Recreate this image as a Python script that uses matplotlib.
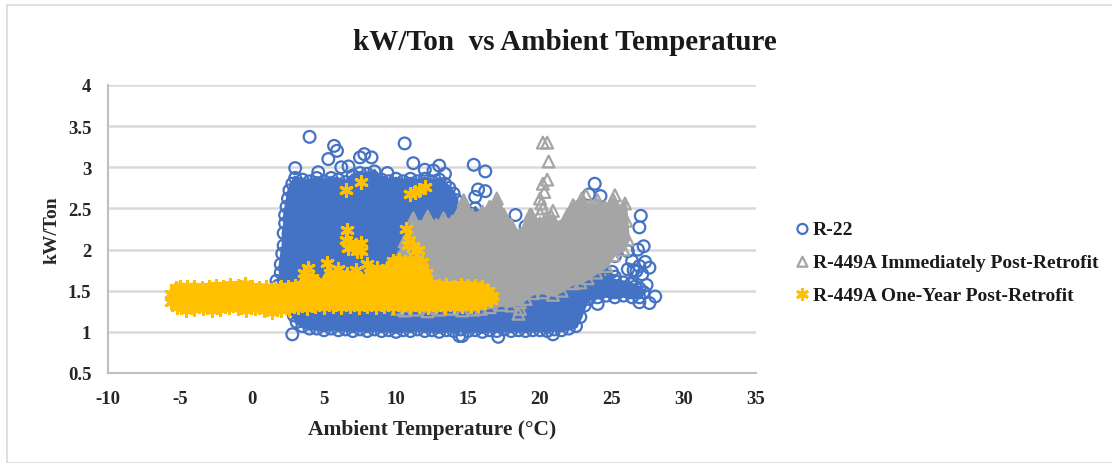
import matplotlib
matplotlib.use("Agg")
import matplotlib.pyplot as plt
from matplotlib.patches import Rectangle

# outlines of the solid part of each cloud
blue_edge_x = [2.2, 2.0, 2.0, 2.1, 2.2, 2.2, 2.3, 2.3, 2.4, 2.5, 2.6, 2.8, 3.0, 3.5, 4.0, 4.5, 5.0, 5.5, 6.0, 6.5,
               7.0, 7.5, 8.0, 8.5, 9.0, 9.5, 10.0, 10.5, 11.0, 11.5, 12.0, 12.5, 13.0, 13.4, 13.7, 14.0, 14.2, 14.1,
               15.0, 15.5, 16.0, 17.0, 19.0, 21.0, 23.0, 24.0, 24.6, 25.2, 25.8, 26.3, 26.6, 26.9, 27.2, 26.9, 26.4,
               25.8, 25.2, 24.6, 24.0, 23.4, 23.1, 22.8, 22.5, 22.0, 21.5, 21.0, 20.5, 20.0, 19.5, 19.0, 18.5, 18.0,
               17.5, 17.0, 16.5, 16.0, 15.5, 15.0, 14.5, 14.0, 13.5, 13.0, 12.5, 12.0, 11.5, 11.0, 10.5, 10.0, 9.5,
               9.0, 8.5, 8.0, 7.5, 7.0, 6.5, 6.0, 5.5, 5.0, 4.5, 4.0, 3.5, 3.1, 2.9, 2.7, 2.5, 2.4]
blue_edge_y = [1.62, 1.72, 1.82, 1.95, 2.05, 2.2, 2.32, 2.42, 2.52, 2.62, 2.72, 2.8, 2.87, 2.85, 2.83, 2.87, 2.83,
               2.87, 2.85, 2.82, 2.9, 2.93, 2.92, 2.95, 2.85, 2.83, 2.86, 2.83, 2.86, 2.83, 2.86, 2.83, 2.85, 2.8,
               2.75, 2.68, 2.6, 2.5, 2.45, 2.5, 2.4, 2.3, 2.1, 2.0, 1.9, 1.72, 1.65, 1.62, 1.6, 1.58, 1.55, 1.53,
               1.48, 1.42, 1.42, 1.44, 1.42, 1.44, 1.42, 1.4, 1.32, 1.18, 1.07, 1.04, 1.02, 1.03, 1.01, 1.02, 1.02,
               1.01, 1.02, 1.01, 1.03, 1.01, 1.02, 1.0, 1.02, 1.01, 1.03, 1.01, 1.02, 1.0, 1.02, 1.01, 1.03, 1.01,
               1.02, 1.0, 1.02, 1.01, 1.03, 1.01, 1.03, 1.01, 1.03, 1.02, 1.04, 1.02, 1.04, 1.04, 1.07, 1.12, 1.2,
               1.28, 1.36, 1.5]
blue_extra_x = [4.0, 5.7, 5.9, 10.6, 11.2, 13.0, 5.3, 7.5, 7.8, 8.3, 3.0, 6.7, 12.0, 15.4, 16.2, 15.7, 16.2, 15.5,
                2.8, 14.4, 17.1, 20.9, 14.6, 18.3, 19.0, 23.8, 23.4, 24.2, 27.0, 26.9, 27.2, 26.8, 26.1, 25.2, 26.4,
                27.3, 27.6, 26.1, 26.7, 25.0, 25.2, 24.6, 27.4, 28.0, 27.6, 26.9, 24.0, 27.2, 26.4, 26.5, 26.9, 27.1,
                4.6, 6.2, 9.4, 12.6, 13.4, 1.7, 1.8, 1.6]
blue_extra_y = [3.37, 3.26, 3.2, 3.29, 3.05, 3.02, 3.1, 3.12, 3.16, 3.12, 2.99, 3.01, 2.97, 3.03, 2.95, 2.73, 2.71,
                2.64, 0.97, 0.95, 0.94, 0.97, 0.95, 2.42, 2.28, 2.8, 2.67, 2.65, 2.41, 2.27, 2.04, 2.0, 1.98, 1.92,
                1.86, 1.85, 1.78, 1.76, 1.74, 1.73, 1.67, 1.68, 1.57, 1.43, 1.35, 1.36, 1.34, 1.48, 1.6, 1.75, 1.8,
                1.7, 2.94, 3.0, 2.93, 2.96, 2.92, 1.62, 1.56, 1.5]

gray_edge_x = [9.9, 10.2, 10.6, 11.2, 11.7, 12.2, 12.8, 13.3, 13.9, 14.7, 15.3, 16.0, 16.5, 17.0, 17.5, 18.0, 18.6,
               19.0, 19.4, 20.0, 20.4, 20.8, 21.4, 21.9, 22.3, 22.9, 23.5, 24.0, 24.5, 25.1, 25.5, 25.9, 26.0, 26.1,
               25.8, 25.1, 24.6, 23.9, 23.3, 22.8, 22.3, 21.5, 20.9, 20.2, 19.5, 19.0, 18.6, 18.0, 17.3, 16.5, 15.9,
               15.4, 14.6, 13.8, 13.0, 12.2, 11.4, 10.6, 10.1, 9.9, 9.8, 9.8, 9.9]
gray_edge_y = [1.75, 1.9, 2.1, 2.38, 2.28, 2.4, 2.3, 2.38, 2.34, 2.6, 2.42, 2.46, 2.52, 2.62, 2.42, 2.3, 2.18, 2.27,
               2.42, 2.32, 2.38, 2.4, 2.28, 2.42, 2.54, 2.62, 2.5, 2.54, 2.52, 2.6, 2.46, 2.56, 2.35, 2.12, 2.0, 1.93,
               1.8, 1.72, 1.65, 1.6, 1.59, 1.5, 1.45, 1.48, 1.47, 1.4, 1.36, 1.32, 1.33, 1.3, 1.28, 1.27, 1.26, 1.28,
               1.27, 1.25, 1.27, 1.26, 1.28, 1.35, 1.45, 1.55, 1.65]
gray_extra_x = [20.2, 20.5, 20.6, 20.5, 20.2, 20.0, 20.1, 20.2, 20.0, 20.3, 19.3, 20.9, 18.5, 18.6, 23.2, 24.0, 25.2]
gray_extra_y = [3.3, 3.3, 3.07, 2.85, 2.8, 2.62, 2.56, 2.5, 2.44, 2.7, 2.42, 2.47, 1.22, 1.28, 2.66, 2.6, 2.66]

yellow_edge_x = [-5.6, -5.3, -5.0, -4.5, -4.0, -3.5, -3.0, -2.5, -2.0, -1.5, -1.0, -0.5, 0.0, 0.5, 1.0, 1.5, 2.0, 2.5,
                 3.0, 3.4, 3.8, 4.2, 4.6, 5.0, 5.4, 5.8, 6.2, 6.6, 7.0, 7.4, 7.8, 8.2, 8.6, 9.0, 9.4, 9.8, 10.2, 10.6,
                 11.0, 11.4, 11.8, 12.1, 12.4, 13.0, 13.5, 14.0, 14.5, 15.0, 15.5, 16.0, 16.4, 16.7, 16.6, 16.2, 15.7,
                 15.2, 14.6, 14.0, 13.4, 12.8, 12.2, 11.6, 11.0, 10.4, 9.8, 9.2, 8.6, 8.0, 7.4, 6.8, 6.2, 5.6, 5.0,
                 4.4, 3.8, 3.2, 2.6, 2.0, 1.4, 0.8, 0.2, -0.4, -1.0, -1.6, -2.2, -2.8, -3.4, -4.0, -4.6, -5.2, -5.6]
yellow_edge_y = [1.46, 1.53, 1.55, 1.54, 1.55, 1.53, 1.55, 1.56, 1.55, 1.57, 1.56, 1.58, 1.55, 1.53, 1.54, 1.52, 1.54,
                 1.55, 1.56, 1.57, 1.68, 1.66, 1.58, 1.6, 1.72, 1.68, 1.62, 1.7, 1.68, 1.66, 1.6, 1.72, 1.68, 1.7, 1.78,
                 1.86, 1.87, 1.85, 1.87, 1.86, 1.85, 1.72, 1.58, 1.56, 1.57, 1.55, 1.57, 1.56, 1.56, 1.54, 1.5, 1.44,
                 1.39, 1.36, 1.33, 1.31, 1.31, 1.32, 1.3, 1.31, 1.3, 1.32, 1.3, 1.31, 1.3, 1.31, 1.3, 1.31, 1.3, 1.31,
                 1.3, 1.32, 1.3, 1.31, 1.29, 1.3, 1.28, 1.27, 1.24, 1.27, 1.29, 1.27, 1.29, 1.3, 1.28, 1.27, 1.29, 1.28,
                 1.27, 1.3, 1.36]
yellow_extra_x = [6.5, 7.6, 11.0, 11.3, 11.6, 12.0, 6.6, 6.5, 6.8, 7.2, 7.6, 6.7, 7.3, 7.6, 10.7, 10.9, 10.8, 11.2, 11.5,
                  3.6, 3.9, 5.2, 6.0, 7.2, 8.0, 8.7]
yellow_extra_y = [2.72, 2.82, 2.68, 2.7, 2.72, 2.76, 2.24, 2.12, 2.08, 2.05, 2.08, 2.02, 1.98, 1.98, 2.25, 2.12, 2.05,
                  2.04, 2.0, 1.72, 1.78, 1.84, 1.76, 1.75, 1.82, 1.78]

x_ticks = [-10, -5, 0, 5, 10, 15, 20, 25, 30, 35]
x_labels = ["-10", "-5", "0", "5", "10", "15", "20", "25", "30", "35"]
y_ticks = [0.5, 1, 1.5, 2, 2.5, 3, 3.5, 4]
y_labels = ["0.5", "1", "1.5", "2", "2.5", "3", "3.5", "4"]

BLUE = "#4472C4"
GRAY = "#A5A5A5"
YELLOW = "#FFC000"

plt.rcParams['font.family'] = ['Liberation Serif', 'DejaVu Serif']
plt.rcParams['font.weight'] = 'bold'

fig = plt.figure(figsize=(11.12, 4.64), dpi=100)
fig.patches.append(Rectangle((7 / 1112, 0), 1.2, 1 - 6 / 464, transform=fig.transFigure,
                             fill=False, ec="#D9D9D9", lw=1.2))
ax = fig.add_axes([108 / 1112, 1 - 374 / 464, 648 / 1112, 288 / 464])

# thick polygon edge closes the gaps between the edge markers
ax.fill(blue_edge_x, blue_edge_y, color=BLUE, lw=3, zorder=3)
ax.scatter(blue_edge_x + blue_extra_x, blue_edge_y + blue_extra_y, s=72, marker="o", facecolors="none",
           edgecolors=BLUE, linewidths=1.6, zorder=3, clip_on=False, label="R-22")

ax.fill(gray_edge_x, gray_edge_y, color=GRAY, lw=3, zorder=4)
ax.scatter(gray_edge_x + gray_extra_x, gray_edge_y + gray_extra_y, s=72, marker="^", facecolors="none",
           edgecolors=GRAY, linewidths=1.6, zorder=4, label="R-449A Immediately Post-Retrofit")

ax.fill(yellow_edge_x, yellow_edge_y, color=YELLOW, lw=6, zorder=5)
ax.scatter(yellow_edge_x + yellow_extra_x, yellow_edge_y + yellow_extra_y, s=75, marker=(6, 2, 0),
           color=YELLOW, linewidths=2.2, zorder=5, label="R-449A One-Year Post-Retrofit")

ax.set_xlim(-10, 35)
ax.set_ylim(0.5, 4)
ax.set_xticks(x_ticks)
ax.set_xticklabels(x_labels)
ax.set_yticks(y_ticks)
ax.set_yticklabels(y_labels)
ax.tick_params(length=0, labelsize=13.5, labelcolor="#262626")
ax.tick_params(axis="x", pad=12)
ax.tick_params(axis="y", pad=12)
ax.grid(axis="y", color="#D9D9D9", lw=1.8, zorder=0)
ax.set_axisbelow(True)
for side in ["top", "right"]:
    ax.spines[side].set_visible(False)
for side in ["left", "bottom"]:
    ax.spines[side].set_color("#BFBFBF")
    ax.spines[side].set_linewidth(1.5)

ax.set_xlabel("Ambient Temperature (°C)", fontsize=15.5, fontweight="bold", color="#262626", labelpad=9)
ax.set_ylabel("kW/Ton", fontsize=14, fontweight="bold", color="#262626", labelpad=5)
fig.text(565 / 1112, 1 - 42 / 464, "kW/Ton  vs Ambient Temperature", fontsize=21, fontweight="bold",
         color="#1a1a1a", ha="center", va="center")

ax.legend(loc="center left", bbox_to_anchor=(783 / 1112, 1 - 263 / 464), bbox_transform=fig.transFigure,
          frameon=False, fontsize=14, handletextpad=-0.46, labelspacing=0.78, scatterpoints=1, markerscale=0.85,
          labelcolor="#1a1a1a", borderpad=0, borderaxespad=0)

fig.savefig("out.png", dpi=100)
